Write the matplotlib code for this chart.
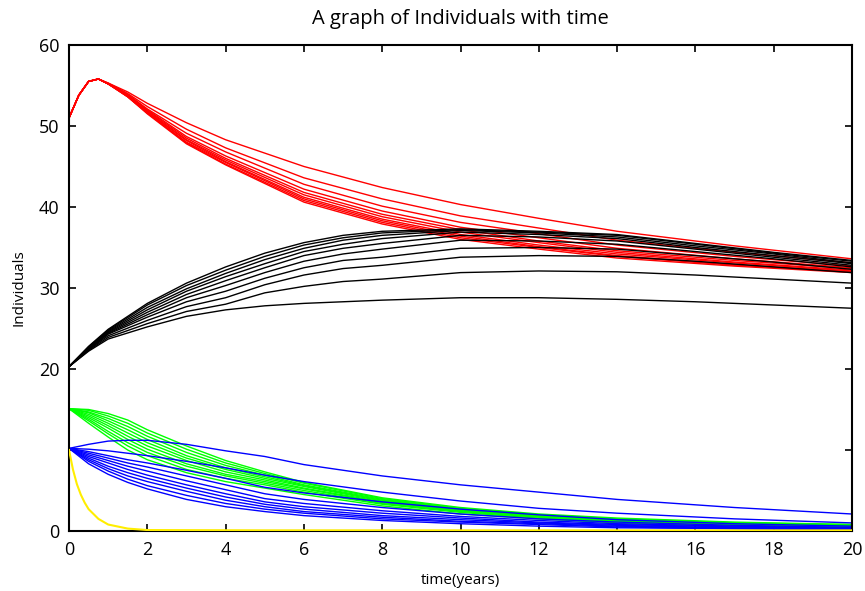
import matplotlib
matplotlib.use("Agg")
import matplotlib.pyplot as plt

plt.rcParams['font.family'] = ['Open Sans', 'DejaVu Sans']

# ---- time grids (years) ----
t_red = [0, 0.25, 0.5, 0.75, 1, 1.5, 2, 3, 4, 6, 8, 10, 12, 14, 17, 20]
t_black = [0, 0.5, 1, 2, 3, 4, 5, 6, 7, 8, 10, 12, 14, 16, 18, 20]
t_green = [0, 0.5, 1, 1.5, 2, 3, 4, 5, 6, 8, 10, 12, 14, 17, 20]
t_blue = [0, 0.5, 1, 1.5, 2, 3, 4, 5, 6, 8, 10, 12, 14, 17, 20]
t_yellow = [0, 0.05, 0.1, 0.2, 0.3, 0.4, 0.5, 0.75, 1.0, 1.5, 2, 5, 20]

# ---- red group (10 runs) ----
red_runs = [
    [51, 53.8, 55.5, 55.8, 55.3, 54.2, 52.8, 50.4, 48.3, 45.0, 42.4, 40.3, 38.6, 37.0, 35.2, 33.6],
    [51, 53.8, 55.5, 55.8, 55.3, 54.0, 52.4, 49.6, 47.3, 43.6, 41.0, 38.9, 37.4, 35.9, 34.4, 33.1],
    [51, 53.8, 55.5, 55.8, 55.2, 53.9, 52.1, 49.1, 46.8, 42.8, 40.1, 38.1, 36.7, 35.3, 33.9, 32.7],
    [51, 53.8, 55.5, 55.8, 55.2, 53.8, 52.0, 48.7, 46.3, 42.2, 39.5, 37.5, 36.2, 34.9, 33.6, 32.5],
    [51, 53.8, 55.5, 55.8, 55.2, 53.8, 51.9, 48.5, 46.0, 41.8, 39.1, 37.2, 35.8, 34.6, 33.4, 32.4],
    [51, 53.8, 55.5, 55.8, 55.2, 53.7, 51.8, 48.3, 45.8, 41.5, 38.8, 36.9, 35.6, 34.4, 33.2, 32.2],
    [51, 53.8, 55.5, 55.8, 55.2, 53.7, 51.7, 48.2, 45.6, 41.2, 38.5, 36.6, 35.3, 34.2, 33.1, 32.1],
    [51, 53.8, 55.5, 55.8, 55.2, 53.6, 51.6, 48.0, 45.5, 41.0, 38.3, 36.4, 35.1, 34.0, 32.9, 32.0],
    [51, 53.8, 55.5, 55.8, 55.2, 53.6, 51.6, 47.9, 45.3, 40.8, 38.1, 36.2, 35.0, 33.9, 32.8, 32.0],
    [51, 53.8, 55.5, 55.8, 55.2, 53.6, 51.5, 47.8, 45.2, 40.6, 37.9, 36.0, 34.8, 33.7, 32.7, 31.9],
]

# ---- black group (10 runs) ----
black_runs = [
    [20.3, 22.8, 24.9, 28.1, 30.6, 32.6, 34.3, 35.6, 36.5, 37.0, 37.3, 37.0, 36.6, 35.5, 34.4, 33.4],
    [20.3, 22.7, 24.8, 27.9, 30.3, 32.2, 33.9, 35.3, 36.2, 36.8, 37.2, 36.9, 36.5, 35.4, 34.3, 33.3],
    [20.3, 22.7, 24.7, 27.6, 29.9, 31.8, 33.5, 34.9, 35.9, 36.5, 37.1, 36.8, 36.3, 35.2, 34.2, 33.1],
    [20.3, 22.6, 24.6, 27.3, 29.6, 31.4, 33.0, 34.5, 35.4, 36.1, 36.9, 36.6, 36.1, 35.0, 34.0, 33.0],
    [20.3, 22.6, 24.5, 27.0, 29.2, 30.9, 32.5, 34.0, 34.9, 35.5, 36.5, 36.3, 35.8, 34.8, 33.8, 32.8],
    [20.3, 22.5, 24.4, 26.7, 28.8, 30.3, 31.9, 33.3, 34.2, 34.8, 35.9, 35.8, 35.4, 34.5, 33.6, 32.6],
    [20.3, 22.4, 24.3, 26.4, 28.3, 29.6, 31.2, 32.5, 33.4, 33.8, 34.9, 35.0, 34.8, 34.0, 33.2, 32.3],
    [20.3, 22.4, 24.1, 26.0, 27.7, 28.8, 30.4, 31.6, 32.4, 32.8, 33.8, 34.0, 33.9, 33.3, 32.6, 31.9],
    [20.3, 22.3, 23.9, 25.6, 27.1, 28.0, 29.4, 30.2, 30.8, 31.1, 31.9, 32.1, 32.0, 31.6, 31.1, 30.6],
    [20.3, 22.2, 23.7, 25.2, 26.5, 27.3, 27.8, 28.1, 28.3, 28.5, 28.8, 28.8, 28.6, 28.3, 27.9, 27.5],
]

# ---- green group (10 runs) ----
green_runs = [
    [15.1, 15.0, 14.5, 13.7, 12.5, 10.5, 8.7, 7.3, 6.0, 4.1, 2.9, 2.1, 1.6, 1.1, 0.8],
    [15.1, 14.9, 14.2, 13.3, 12.1, 10.1, 8.4, 7.1, 5.9, 4.0, 2.8, 2.0, 1.5, 1.0, 0.8],
    [15.1, 14.7, 13.9, 12.9, 11.7, 9.7, 8.1, 6.9, 5.7, 3.9, 2.7, 2.0, 1.5, 1.0, 0.7],
    [15.1, 14.6, 13.6, 12.5, 11.3, 9.3, 7.8, 6.7, 5.6, 3.8, 2.7, 1.9, 1.4, 1.0, 0.7],
    [15.1, 14.4, 13.3, 12.1, 10.9, 9.0, 7.6, 6.5, 5.5, 3.7, 2.6, 1.9, 1.4, 0.9, 0.6],
    [15.1, 14.2, 13.0, 11.7, 10.5, 8.7, 7.3, 6.3, 5.3, 3.6, 2.5, 1.8, 1.3, 0.9, 0.6],
    [15.1, 14.0, 12.7, 11.3, 10.1, 8.3, 7.0, 6.1, 5.2, 3.5, 2.5, 1.8, 1.3, 0.9, 0.6],
    [15.1, 13.8, 12.3, 10.9, 9.7, 8.0, 6.8, 5.9, 5.0, 3.4, 2.4, 1.7, 1.2, 0.8, 0.5],
    [15.1, 13.6, 12.0, 10.5, 9.3, 7.6, 6.5, 5.7, 4.8, 3.3, 2.3, 1.6, 1.2, 0.8, 0.5],
    [15.1, 13.3, 11.6, 10.0, 8.8, 7.2, 6.1, 5.3, 4.5, 3.1, 2.1, 1.5, 1.0, 0.6, 0.3],
]

# ---- blue group (10 runs) ----
blue_runs = [
    [10.2, 10.7, 11.1, 11.2, 11.2, 10.7, 9.9, 9.2, 8.2, 6.8, 5.7, 4.8, 3.9, 2.9, 2.1],
    [10.2, 10.1, 9.9, 9.6, 9.3, 8.6, 7.8, 6.9, 6.1, 4.8, 3.7, 2.8, 2.2, 1.5, 1.0],
    [10.2, 9.8, 9.3, 8.8, 8.4, 7.5, 6.5, 5.4, 4.7, 3.6, 2.7, 2.0, 1.4, 0.9, 0.6],
    [10.2, 9.6, 9.0, 8.4, 7.9, 6.8, 5.7, 4.6, 3.9, 2.9, 2.1, 1.5, 1.1, 0.7, 0.45],
    [10.2, 9.4, 8.7, 8.0, 7.4, 6.2, 5.1, 4.0, 3.4, 2.5, 1.8, 1.3, 0.9, 0.6, 0.35],
    [10.2, 9.2, 8.4, 7.6, 6.9, 5.7, 4.6, 3.6, 3.0, 2.2, 1.6, 1.1, 0.8, 0.5, 0.3],
    [10.2, 9.0, 8.0, 7.2, 6.5, 5.3, 4.2, 3.3, 2.7, 1.9, 1.4, 1.0, 0.7, 0.4, 0.25],
    [10.2, 8.8, 7.7, 6.8, 6.1, 4.9, 3.8, 3.0, 2.4, 1.7, 1.2, 0.9, 0.6, 0.35, 0.2],
    [10.2, 8.6, 7.4, 6.4, 5.6, 4.4, 3.4, 2.7, 2.2, 1.5, 1.1, 0.8, 0.5, 0.3, 0.2],
    [10.2, 8.3, 7.0, 6.0, 5.2, 3.9, 3.0, 2.4, 1.9, 1.3, 0.9, 0.6, 0.4, 0.3, 0.15],
]

# ---- yellow group ----
yellow_run = [10.0, 8.8, 7.6, 5.8, 4.5, 3.5, 2.7, 1.5, 0.8, 0.3, 0.12, 0.08, 0.08]

x_ticks = [0, 2, 4, 6, 8, 10, 12, 14, 16, 18, 20]
y_ticks = [0, 10, 20, 30, 40, 50, 60]
y_tick_labels = ["0", "", "20", "30", "40", "50", "60"]

fig = plt.figure(figsize=(8.65, 5.91), dpi=100)
ax = fig.add_axes([0.0798, 0.1015, 0.9052, 0.8224])

lw = 1.0
for run in red_runs:
    ax.plot(t_red, run, color="#ff0000", lw=lw)
for run in black_runs:
    ax.plot(t_black, run, color="#000000", lw=lw)
for run in green_runs:
    ax.plot(t_green, run, color="#00ff00", lw=lw)
for run in blue_runs:
    ax.plot(t_blue, run, color="#0000ff", lw=lw)
ax.plot(t_yellow, yellow_run, color="#ffee00", lw=1.5, zorder=3)

ax.set_xlim(0, 20)
ax.set_ylim(0, 60)
ax.set_xticks(x_ticks)
ax.set_yticks(y_ticks)
ax.set_yticklabels(y_tick_labels)
ax.tick_params(direction="in", top=True, right=True, length=5, width=1.2,
               labelsize=13, pad=7)
for sp in ax.spines.values():
    sp.set_linewidth(1.5)

ax.set_title("A graph of Individuals with time", fontsize=14.5, pad=15)
ax.set_xlabel("time(years)", fontsize=11, labelpad=10)
ax.set_ylabel("Individuals", fontsize=11)
ax.yaxis.set_label_coords(-0.054, 0.5)

fig.savefig("out.png", dpi=100)
